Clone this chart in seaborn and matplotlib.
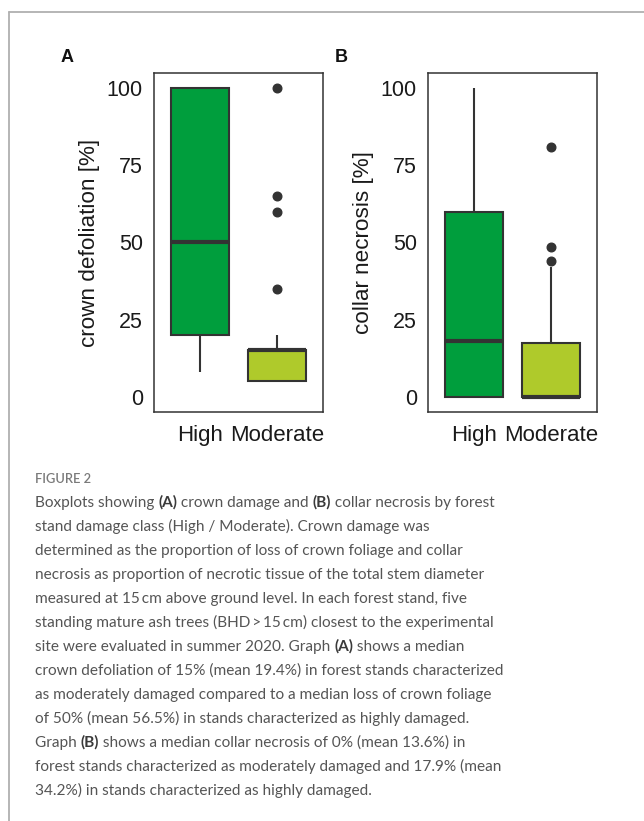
import numpy as np
import pandas as pd
import matplotlib
matplotlib.use("Agg")
import matplotlib.pyplot as plt
import seaborn as sns
from matplotlib.lines import Line2D

# ---------------- data ----------------
classes = ["High", "Moderate"]
crown_high = [8, 20, 50, 100, 100]
crown_moderate = [5, 5, 5, 5, 5, 5, 15, 15, 15, 15, 15, 15, 15, 15, 15, 15,
                  20, 35, 60, 65, 100]
collar_high = [0, 0, 17.9, 60, 100]
collar_moderate = [0, 0, 0, 0, 0, 0, 0, 0, 0, 0, 0, 5, 10, 12, 15, 17.4,
                   25, 42, 44, 48.5, 81]
y_ticks = [0, 25, 50, 75, 100]
panel_labels = ["A", "B"]
y_labels = ["crown defoliation [%]", "collar necrosis [%]"]
colors = ["#009E3D", "#AFCA2B"]

caption_title = "FIGURE 2"
caption_lines = [
    [("Boxplots showing ", False), ("(A)", True), (" crown damage and ", False), ("(B)", True),
     (" collar necrosis by forest", False)],
    [("stand damage class (High / Moderate). Crown damage was", False)],
    [("determined as the proportion of loss of crown foliage and collar", False)],
    [("necrosis as proportion of necrotic tissue of the total stem diameter", False)],
    [("measured at 15\u2009cm above ground level. In each forest stand, five", False)],
    [("standing mature ash trees (BHD\u2009>\u200915\u2009cm) closest to the experimental", False)],
    [("site were evaluated in summer 2020. Graph ", False), ("(A)", True), (" shows a median", False)],
    [("crown defoliation of 15% (mean 19.4%) in forest stands characterized", False)],
    [("as moderately damaged compared to a median loss of crown foliage", False)],
    [("of 50% (mean 56.5%) in stands characterized as highly damaged.", False)],
    [("Graph ", False), ("(B)", True), (" shows a median collar necrosis of 0% (mean 13.6%) in", False)],
    [("forest stands characterized as moderately damaged and 17.9% (mean", False)],
    [("34.2%) in stands characterized as highly damaged.", False)],
]

def make_df(high, moderate):
    return pd.DataFrame({
        "cls": [classes[0]] * len(high) + [classes[1]] * len(moderate),
        "val": list(high) + list(moderate),
    })

dfs = [make_df(crown_high, crown_moderate), make_df(collar_high, collar_moderate)]

# ---------------- figure ----------------
sns.set_theme(style="white")
plt.rcParams["font.family"] = ["Liberation Sans", "DejaVu Sans"]

W, H = 644, 821
fig = plt.figure(figsize=(W / 100, H / 100), dpi=100)

def fx(px):
    return px / W

def fy(py):
    return 1 - py / H

# frame lines
fig.add_artist(Line2D([fx(9), 1], [fy(12), fy(12)], color="#b0b0b0", lw=1.3))
fig.add_artist(Line2D([fx(9), fx(9)], [fy(12), 0], color="#b0b0b0", lw=1.3))

ax_lefts = [154, 428]
ax_top, ax_bottom, ax_w = 73, 412, 169
dark = "#333333"

for i, (df, left) in enumerate(zip(dfs, ax_lefts)):
    ax = fig.add_axes([fx(left), fy(ax_bottom), ax_w / W, (ax_bottom - ax_top) / H])
    sns.boxplot(data=df, x="cls", y="val", hue="cls", order=classes, hue_order=classes,
                palette=colors, width=0.75, linecolor=dark, linewidth=1.5,
                legend=False, ax=ax, saturation=1,
                medianprops=dict(linewidth=3.0, color=dark),
                whiskerprops=dict(linewidth=1.5, color=dark),
                capprops=dict(linewidth=0),
                flierprops=dict(marker="o", markersize=6.2, markerfacecolor=dark,
                                markeredgecolor=dark))
    ax.set_ylim(-5, 105)
    ax.set_xlim(-0.6, 1.6)
    ax.set_yticks(y_ticks)
    ax.set_yticklabels([str(t) for t in y_ticks])
    ax.set_xlabel("")
    ax.set_ylabel(y_labels[i], fontsize=16.2, color="#1a1a1a", labelpad=5)
    ax.tick_params(axis="both", direction="out", length=5, width=1.3, color=dark,
                   labelcolor="#1a1a1a", pad=3)
    ax.tick_params(axis="y", labelsize=15.5)
    ax.tick_params(axis="x", labelsize=16, pad=4)
    for s in ax.spines.values():
        s.set_color(dark)
        s.set_linewidth(1.1)
    ax.grid(False)
    fig.text(fx(left - 87), fy(57), panel_labels[i], fontsize=13, fontweight="bold",
             ha="center", va="center", color="#111111")

# ---------------- caption ----------------
cap_font = ["Lato", "DejaVu Sans"]
cap_color = "#555555"
fig.text(fx(35), fy(483), caption_title, fontsize=9.3, color="#7a7a7a",
         family=cap_font, fontweight="semibold", va="baseline", ha="left")

renderer = fig.canvas.get_renderer()
cap_size = 11.05
x0 = 35
base0 = 507
for li, segs in enumerate(caption_lines):
    x = x0
    y = base0 + li * 24
    for text, bold in segs:
        t = fig.text(fx(x), fy(y), text, fontsize=cap_size, color="#3a3a3a" if bold else cap_color,
                     family=cap_font, fontweight="bold" if bold else "normal",
                     va="baseline", ha="left")
        bb = t.get_window_extent(renderer=renderer)
        x += bb.width

fig.savefig("out.png", dpi=100)
